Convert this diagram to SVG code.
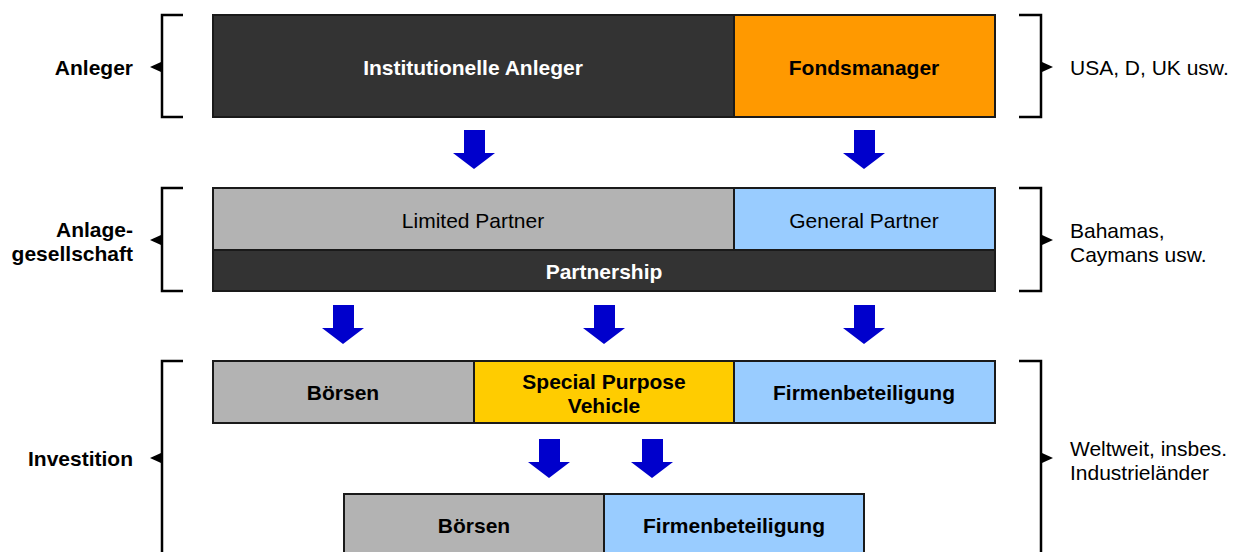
<svg xmlns="http://www.w3.org/2000/svg" width="1240" height="552" viewBox="0 0 1240 552">
<style>
.box{stroke:#1a1a1a;stroke-width:2}
.t{font-family:"Liberation Sans",Arial,sans-serif;font-size:21px;text-anchor:middle;dominant-baseline:central}
.b{font-weight:bold}
.w{fill:#ffffff}
.k{fill:#000000}
.lab{font-family:"Liberation Sans",Arial,sans-serif;font-size:21px;dominant-baseline:central;fill:#000}
.br{fill:none;stroke:#000;stroke-width:2.5}
.arr{fill:#0000cc}
</style>
<defs>
<path id="da" d="M-10,0 H11 V23 H21 L0,39 L-21,23 H-10 Z"/>
</defs>
<rect width="1240" height="552" fill="#fff"/>
<g id="row1">
<g id="inst"><rect class="box" x="213" y="15" width="521" height="102" fill="#333333"/><text class="t b w" x="473" y="67">Institutionelle Anleger</text></g>
<g id="fonds"><rect class="box" x="734" y="15" width="261" height="102" fill="#ff9900"/><text class="t b k" x="864" y="67">Fondsmanager</text></g>
</g>
<g id="row2">
<g id="lp"><rect class="box" x="213" y="188" width="521" height="62" fill="#b3b3b3"/><text class="t k" x="473" y="220">Limited Partner</text></g>
<g id="gp"><rect class="box" x="734" y="188" width="261" height="62" fill="#99ccff"/><text class="t k" x="864" y="220">General Partner</text></g>
<g id="ps"><rect class="box" x="213" y="250" width="782" height="41" fill="#333333"/><text class="t b w" x="604" y="271">Partnership</text></g>
</g>
<g id="row3">
<g id="boersen1"><rect class="box" x="213" y="361" width="261" height="62" fill="#b3b3b3"/><text class="t b k" x="343" y="392">Börsen</text></g>
<g id="spv"><rect class="box" x="474" y="361" width="260" height="62" fill="#ffcc00"/><text class="t b k" x="604" y="381">Special Purpose</text><text class="t b k" x="604" y="405">Vehicle</text></g>
<g id="firm1"><rect class="box" x="734" y="361" width="261" height="62" fill="#99ccff"/><text class="t b k" x="864" y="392">Firmenbeteiligung</text></g>
</g>
<g id="row4">
<g id="boersen2"><rect class="box" x="344" y="494" width="260" height="70" fill="#b3b3b3"/><text class="t b k" x="474" y="525">Börsen</text></g>
<g id="firm2"><rect class="box" x="604" y="494" width="260" height="70" fill="#99ccff"/><text class="t b k" x="734" y="525">Firmenbeteiligung</text></g>
</g>
<g id="connectors">
<use href="#da" class="arr" x="474" y="130"/>
<use href="#da" class="arr" x="864" y="130"/>
<use href="#da" class="arr" x="343" y="305"/>
<use href="#da" class="arr" x="604" y="305"/>
<use href="#da" class="arr" x="864" y="305"/>
<use href="#da" class="arr" x="549" y="439"/>
<use href="#da" class="arr" x="652" y="439"/>
</g>
<g id="brackets">
<path class="br" d="M183,15 H162 V117 H183"/>
<path d="M161,62 L150,67 L161,72 Z" fill="#000"/>
<path class="br" d="M1019,15 H1041 V117 H1019"/>
<path d="M1042,62 L1053,67 L1042,72 Z" fill="#000"/>
<path class="br" d="M183,188 H162 V291 H183"/>
<path d="M161,235 L150,240 L161,245 Z" fill="#000"/>
<path class="br" d="M1019,188 H1041 V291 H1019"/>
<path d="M1042,235 L1053,240 L1042,245 Z" fill="#000"/>
<path class="br" d="M183,361 H162 V560"/>
<path d="M161,453 L150,458 L161,463 Z" fill="#000"/>
<path class="br" d="M1019,361 H1041 V560"/>
<path d="M1042,453 L1053,458 L1042,463 Z" fill="#000"/>
</g>
<g id="labels">
<text class="lab b" x="133" y="67" text-anchor="end">Anleger</text>
<text class="lab b" x="133" y="229" text-anchor="end">Anlage-</text>
<text class="lab b" x="133" y="253" text-anchor="end">gesellschaft</text>
<text class="lab b" x="133" y="458" text-anchor="end">Investition</text>
<text class="lab" x="1070" y="67">USA, D, UK usw.</text>
<text class="lab" x="1070" y="230">Bahamas,</text>
<text class="lab" x="1070" y="254">Caymans usw.</text>
<text class="lab" x="1070" y="448">Weltweit, insbes.</text>
<text class="lab" x="1070" y="472">Industrieländer</text>
</g>
</svg>
